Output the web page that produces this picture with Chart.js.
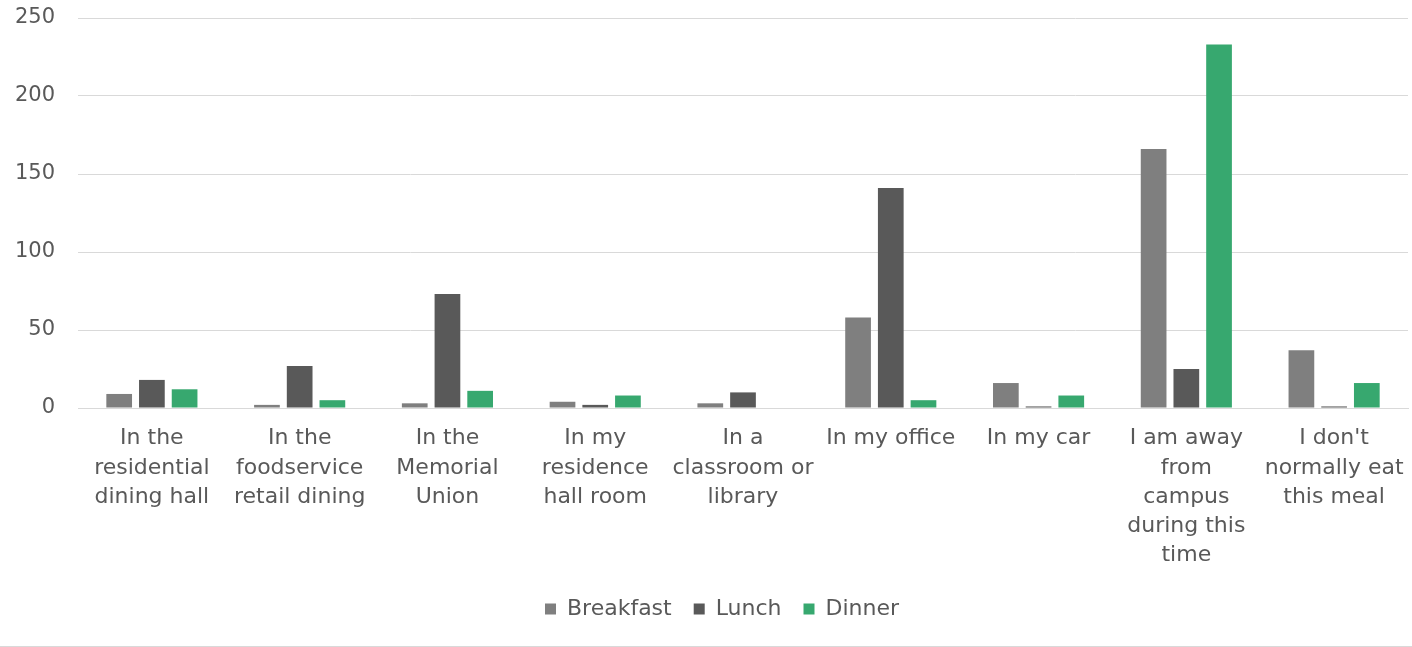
<!DOCTYPE html>
<html>
<head>
<meta charset="utf-8">
<script src="https://cdn.jsdelivr.net/npm/chart.js@4/dist/chart.umd.min.js"></script>
<style>
  html, body { margin: 0; padding: 0; background: #fff; }
  .chart-wrapper { position: relative; width: 1412px; height: 647px; box-sizing: border-box; border-bottom: 1px solid #d9d9d9; }
</style>
</head>
<body>
<div class="chart-wrapper"><canvas id="mealChart"></canvas></div>
<script>
// Where respondents eat each meal
const locations = [
  ['In the', 'residential', 'dining hall'],
  ['In the', 'foodservice', 'retail dining'],
  ['In the', 'Memorial', 'Union'],
  ['In my', 'residence', 'hall room'],
  ['In a', 'classroom or', 'library'],
  ['In my office'],
  ['In my car'],
  ['I am away', 'from', 'campus', 'during this', 'time'],
  ["I don't", 'normally eat', 'this meal']
];
const breakfast = [9, 2, 3, 4, 3, 58, 16, 166, 37];
const lunch     = [18, 27, 73, 2, 10, 141, 1, 25, 1];
const dinner    = [12, 5, 11, 8, 0, 5, 8, 233, 16];
const yTicks    = [0, 50, 100, 150, 200, 250];

const textColor = '#595959';
const fontFamily = '"DejaVu Sans", sans-serif';

// nudge the legend a little to the right of the canvas centre
const legendShift = {
  id: 'legendShift',
  afterLayout(chart) {
    const lg = chart.legend;
    if (lg) { lg.left += 18; lg.right += 18; }
  }
};

const ctx = document.getElementById('mealChart').getContext('2d');
new Chart(ctx, {
  type: 'bar',
  data: {
    labels: locations,
    datasets: [
      { label: 'Breakfast', data: breakfast, backgroundColor: '#7f7f7f' },
      { label: 'Lunch', data: lunch, backgroundColor: '#595959' },
      { label: 'Dinner', data: dinner, backgroundColor: '#37a86f' }
    ]
  },
  plugins: [legendShift],
  options: {
    responsive: true,
    maintainAspectRatio: false,
    animation: false,
    layout: { padding: { top: 18, right: 4, bottom: 16, left: 0 } },
    datasets: {
      bar: { barPercentage: 0.786, categoryPercentage: 0.664 }
    },
    plugins: {
      tooltip: { enabled: false },
      legend: {
        position: 'bottom',
        labels: {
          color: textColor,
          font: { family: fontFamily, size: 22 },
          boxWidth: 11,
          boxHeight: 11,
          padding: 22
        }
      }
    },
    scales: {
      x: {
        afterFit: scale => {
          scale.height = 168;
          scale.paddingLeft = 0;
          scale.paddingRight = 0;
        },
        grid: { display: false, drawTicks: false },
        border: { display: true, color: '#d9d9d9', width: 1 },
        ticks: {
          color: textColor,
          font: { family: fontFamily, size: 22, lineHeight: 1.33 },
          maxRotation: 0,
          autoSkip: false,
          padding: 16
        }
      },
      y: {
        min: 0,
        max: 250,
        afterBuildTicks: scale => { scale.ticks = yTicks.map(v => ({ value: v })); },
        afterFit: scale => {
          scale.width = 78;
          scale.paddingTop = 0;
          scale.paddingBottom = 0;
        },
        grid: { color: '#d9d9d9', drawTicks: false },
        border: { display: false },
        ticks: {
          color: textColor,
          font: { family: fontFamily, size: 21 },
          padding: 23
        }
      }
    }
  }
});
</script>
</body>
</html>
